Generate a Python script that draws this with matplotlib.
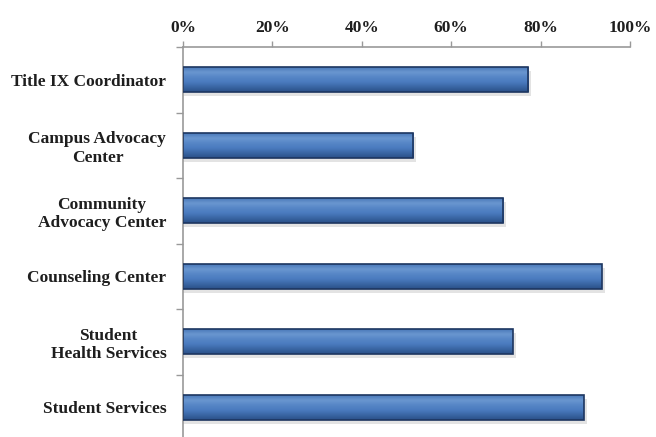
import numpy as np
import matplotlib
matplotlib.use("Agg")
import matplotlib.pyplot as plt
from matplotlib.colors import LinearSegmentedColormap
from matplotlib.ticker import PercentFormatter

categories = [
    "Title IX Coordinator",
    "Campus Advocacy\nCenter",
    "Community\nAdvocacy Center",
    "Counseling Center",
    "Student\nHealth Services",
    "Student Services",
]
values = [77.2, 51.5, 71.6, 93.7, 73.8, 89.7]
x_ticks = [0, 20, 40, 60, 80, 100]

fig = plt.figure(figsize=(6.56, 4.37), dpi=100)
ax = fig.add_axes([183 / 656, -3 / 437, (630 - 183) / 656, (440 - 47) / 437])

pos = np.arange(len(categories))
bar_h = 0.38

# vertical shading for the bevelled bars: light top edge, darker bottom
shade = LinearSegmentedColormap.from_list(
    "bevel",
    ["#2b5088", "#3a66a4", "#4a7bbf", "#5686c6", "#6a97d0", "#4a79b8"],
)
grad = np.linspace(0, 1, 64).reshape(-1, 1)

bars = ax.barh(pos, values, height=bar_h, color="none",
               edgecolor="#1d3660", linewidth=1.2, zorder=3)
for b in bars:
    x0, y0 = b.get_x(), b.get_y()
    w, h = b.get_width(), b.get_height()
    # soft drop shadow under each bar
    ax.barh(y0 + h / 2 + 0.06, w + 0.6, height=h, left=x0,
            color="#c8c8c8", alpha=0.5, linewidth=0, zorder=1)
    im = ax.imshow(grad, cmap=shade, aspect="auto", origin="lower",
                   extent=(x0, x0 + w, y0 + h, y0), zorder=2,
                   interpolation="bicubic")
    im.set_clip_path(b)

ax.set_xlim(0, 100)
ax.set_ylim(len(categories) - 0.5, -0.5)
ax.xaxis.tick_top()
ax.set_xticks(x_ticks)
ax.xaxis.set_major_formatter(PercentFormatter(decimals=0))
ax.set_yticks(pos)
ax.set_yticklabels(categories, multialignment="center", linespacing=1.2)
ax.set_yticks(np.arange(len(categories) + 1) - 0.5, minor=True)

for t in ax.get_yticklabels() + ax.get_xticklabels():
    t.set_fontfamily("Liberation Serif")
    t.set_fontweight("bold")
    t.set_fontsize(12.5)
    t.set_color("#1e1e1e")

ax.tick_params(axis="y", which="major", length=0, pad=12)
ax.tick_params(axis="y", which="minor", length=5, color="#999999", width=1)
ax.tick_params(axis="x", which="major", length=4, color="#999999", width=1, pad=4)

for side in ("right", "bottom"):
    ax.spines[side].set_visible(False)
for side in ("left", "top"):
    ax.spines[side].set_color("#999999")
    ax.spines[side].set_linewidth(1.2)

ax.set_facecolor("none")
fig.savefig("out.png", dpi=100, facecolor="white")
